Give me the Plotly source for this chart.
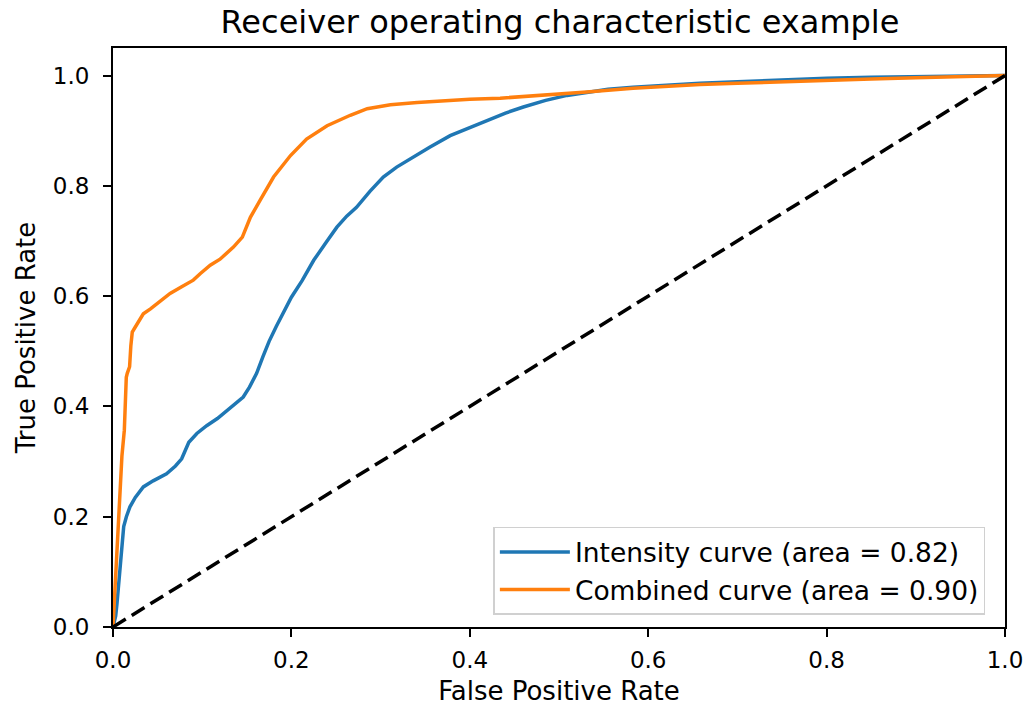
import plotly.graph_objects as go

# Intensity curve (blue)
fpr_intensity = [0, 0.003, 0.0045, 0.006, 0.008, 0.010, 0.012, 0.015, 0.019, 0.025, 0.034, 0.045,
                 0.060, 0.070, 0.077, 0.081, 0.085, 0.094, 0.105, 0.117, 0.130, 0.146, 0.153, 0.161,
                 0.168, 0.175, 0.183, 0.191, 0.200, 0.212, 0.225, 0.240, 0.251, 0.262, 0.273, 0.288,
                 0.303, 0.318, 0.333, 0.355, 0.378, 0.400, 0.415, 0.440, 0.460, 0.485, 0.509, 0.531,
                 0.555, 0.583, 0.620, 0.658, 0.700, 0.767, 0.800, 0.850, 0.900, 0.950, 1.0]
tpr_intensity = [0, 0.02, 0.043, 0.07, 0.10, 0.15, 0.182, 0.20, 0.218, 0.235, 0.254, 0.265,
                 0.278, 0.292, 0.305, 0.320, 0.335, 0.351, 0.365, 0.378, 0.395, 0.417, 0.435, 0.460,
                 0.490, 0.518, 0.545, 0.570, 0.598, 0.628, 0.665, 0.700, 0.725, 0.745, 0.761, 0.790,
                 0.816, 0.834, 0.849, 0.870, 0.891, 0.905, 0.915, 0.932, 0.943, 0.955, 0.964, 0.970,
                 0.975, 0.979, 0.983, 0.986, 0.989, 0.994, 0.995, 0.997, 0.998, 0.999, 1.0]

# Combined curve (orange)
fpr_combined = [0, 0.0026, 0.005, 0.008, 0.010, 0.0127, 0.014, 0.0149, 0.016, 0.0175, 0.0186, 0.020,
                0.0216, 0.025, 0.030, 0.034, 0.042, 0.052, 0.064, 0.077, 0.090, 0.098, 0.109, 0.120,
                0.135, 0.145, 0.150, 0.154, 0.165, 0.180, 0.199, 0.217, 0.240, 0.266, 0.285, 0.311,
                0.341, 0.378, 0.400, 0.434, 0.509, 0.531, 0.583, 0.658, 0.700, 0.767, 0.850,
                0.900, 0.950, 1.0]
tpr_combined = [0, 0.08, 0.16, 0.26, 0.31, 0.357, 0.42, 0.453, 0.46, 0.465, 0.472, 0.51,
                0.535, 0.544, 0.558, 0.568, 0.577, 0.590, 0.605, 0.617, 0.629, 0.641, 0.656, 0.667,
                0.689, 0.707, 0.725, 0.743, 0.774, 0.816, 0.855, 0.885, 0.909, 0.928, 0.940, 0.947,
                0.951, 0.955, 0.957, 0.959, 0.967, 0.970, 0.977, 0.984, 0.986, 0.990, 0.994,
                0.996, 0.998, 1.0]

diag_x = [0, 1]
diag_y = [0, 1]

names = ["Intensity curve (area = 0.82)", "Combined curve (area = 0.90)"]
tick_vals = [0.0, 0.2, 0.4, 0.6, 0.8, 1.0]
tick_text = ["0.0", "0.2", "0.4", "0.6", "0.8", "1.0"]

FONT = "DejaVu Sans"

fig = go.Figure()
fig.add_trace(go.Scatter(x=fpr_intensity, y=tpr_intensity, mode="lines", name=names[0],
                         line=dict(color="#1f77b4", width=3.5)))
fig.add_trace(go.Scatter(x=fpr_combined, y=tpr_combined, mode="lines", name=names[1],
                         line=dict(color="#ff7f0e", width=3.5)))
fig.add_trace(go.Scatter(x=diag_x, y=diag_y, mode="lines", showlegend=False,
                         line=dict(color="black", width=3.5, dash="15px,7px")))

axis_common = dict(
    showgrid=False, zeroline=False, showline=True, linecolor="black", linewidth=2,
    mirror=True, ticks="outside", ticklen=8, tickwidth=2, tickcolor="black",
    tickvals=tick_vals, ticktext=tick_text, tickfont=dict(family=FONT, size=23, color="black"),
    automargin=False, ticklabeloverflow="allow",
)

W, H = 1029, 706

fig.update_layout(
    width=W, height=H,
    margin=dict(l=113, r=24, t=48, b=79),
    paper_bgcolor="white", plot_bgcolor="white",
    title=dict(text="Receiver operating characteristic example", x=560 / W, xanchor="center",
               y=1 - 22 / H, yanchor="middle",
               font=dict(family=FONT, size=32, color="black")),
    xaxis=dict(range=[0, 1], ticklabelstandoff=3,
               title=dict(text="False Positive Rate", standoff=13,
                          font=dict(family=FONT, size=26, color="black")),
               **axis_common),
    yaxis=dict(range=[0, 1.05], ticklabelstandoff=9,
               title=dict(text="True Positive Rate", standoff=10,
                          font=dict(family=FONT, size=26, color="black")),
               **axis_common),
    legend=dict(x=0.978, y=0.021, xanchor="right", yanchor="bottom",
                bgcolor="rgba(255,255,255,0.8)", bordercolor="#d0d0d0", borderwidth=1.5,
                font=dict(family=FONT, size=26.5, color="black"), itemwidth=70),
    showlegend=True,
)

fig.write_html("out.html", config={"displayModeBar": False},
               post_script="document.body.style.margin='0';")
